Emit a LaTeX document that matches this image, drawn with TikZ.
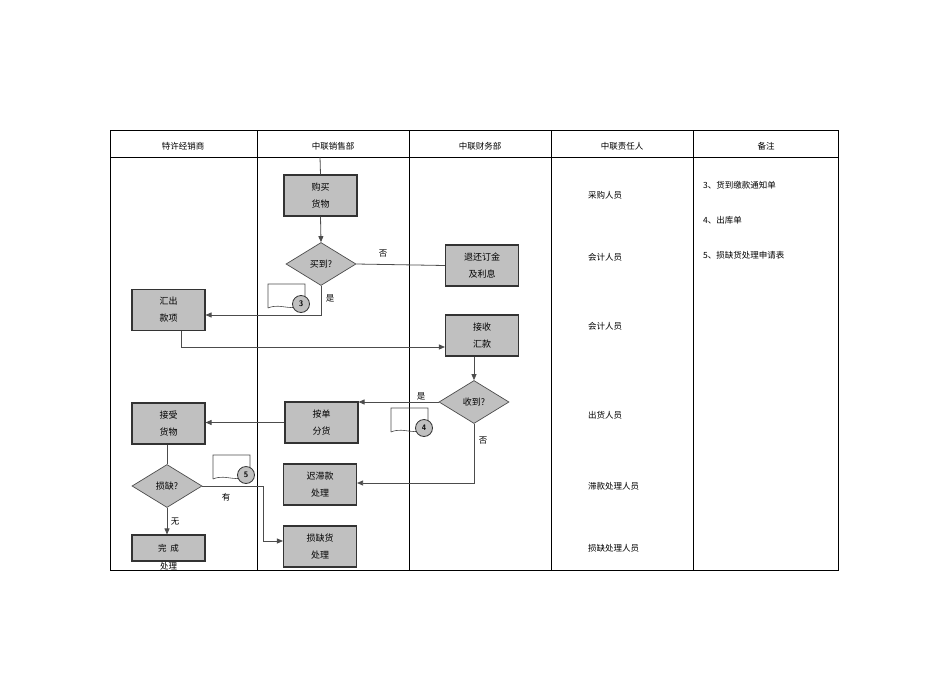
\documentclass[tikz,border=0pt]{standalone}
\usepackage{fontspec}
\setmainfont{Noto Sans CJK SC}
\usetikzlibrary{shapes.geometric,arrows.meta}
\definecolor{boxg}{HTML}{C0C0C0}
\begin{document}
\begin{tikzpicture}[x=1pt,y=-1pt,
  box/.style={draw=black!80,line width=1.1pt,fill=boxg,minimum width=73pt,minimum height=41pt,inner sep=0pt,align=center,font=\fontsize{9}{17}\selectfont},
  dia/.style={diamond,draw=black!70,line width=0.7pt,fill=boxg,minimum width=70pt,minimum height=43pt,inner sep=0pt,aspect=1.6,font=\fontsize{9}{11}\selectfont},
  ln/.style={draw=black!70,line width=0.8pt},
  arr/.style={ln,-{Triangle[length=6pt,width=5pt]}},
  lbl/.style={font=\fontsize{8.5}{10}\selectfont,inner sep=0pt},
  txt/.style={font=\fontsize{8.5}{10}\selectfont,inner sep=0pt,anchor=west},
  num/.style={circle,draw=black!80,line width=0.8pt,fill=boxg,minimum size=17pt,inner sep=0pt,font=\sffamily\bfseries\fontsize{8}{9}\selectfont}]
\useasboundingbox (0,0) rectangle (950,672);
% table
\draw[line width=0.6pt] (110,130) rectangle (838,570);
\draw[line width=0.6pt] (110,157) -- (838,157);
\foreach \x in {257,409,551,693} \draw[line width=0.6pt] (\x,130) -- (\x,570);
\foreach \x/\t in {183/特许经销商,333/中联销售部,480/中联财务部,622/中联责任人,766/备注}
  \node[lbl] (h\x) at (\x,146) {\t};
% nodes
\node[box] (buy) at (320.5,195.5) {购买\\货物};
\node[dia] (d1) at (321,264) {买到?};
\node[box] (ret) at (482,265.5) {退还订金\\及利息};
\node[box] (out) at (168.5,310) {汇出\\款项};
\node[box] (rec) at (482,335.5) {接收\\汇款};
\node[dia] (d2) at (474,402) {收到?};
\node[box] (dist) at (321.5,422.5) {按单\\分货};
\node[box] (acc) at (168.5,423.5) {接受\\货物};
\node[dia] (d3) at (167,486) {损缺?};
\node[box] (late) at (320,484.5) {迟滞款\\处理};
\node[box] (dmg) at (320,546.5) {损缺货\\处理};
\node[box,minimum height=26pt] (done) at (168.5,548) {};
\node[lbl] (done1) at (168.5,548) {完\ \ 成};
\node[lbl] (done2) at (168.5,566) {处理};
% documents
\foreach \x/\y/\n in {268/284/3,391/408/4,213/455/5}{
  \draw[ln,line width=0.6pt] (\x,\y+24) -- (\x,\y) -- (\x+37,\y) -- (\x+37,\y+18)
     .. controls (\x+25,\y+30) and (\x+14,\y+18) .. (\x,\y+24);
  \node[num] (n\n) at (\x+33,\y+20) {\n};
}
% connectors
\coordinate (top1) at (320,157);
\draw[ln] (top1) -- (buy.north);
\draw[arr] (buy.south) -- (d1.north);
\draw[ln] (d1.east) -- (ret.west);
\node[lbl] (no1) at (383,254) {否};
\coordinate (c1) at (321,315);
\draw[arr] (d1.south) -- (c1) -- (out.east|-c1);
\node[lbl] (yes1) at (330,298) {是};
\coordinate (c2) at (181,347);
\draw[arr] (out.south-|c2) -- (c2) -- (rec.west|-c2);
\draw[arr] (rec.south-|d2.north) -- (d2.north);
\draw[arr] (d2.west) -- (dist.east|-d2.west);
\node[lbl] (yes2) at (421,396) {是};
\coordinate (c3) at (474,483);
\draw[arr] (d2.south) -- (c3) -- (late.east|-c3);
\node[lbl] (no2) at (483,441) {否};
\draw[arr] (dist.west) -- (acc.east|-dist.west);
\draw[ln] (acc.south-|d3.north) -- (d3.north);
\coordinate (c4) at (263,486);
\coordinate (c5) at (263,541);
\draw[arr] (d3.east) -- (c4) -- (c5) -- (dmg.west|-c5);
\node[lbl] (has) at (226,497) {有};
\draw[arr] (d3.south) -- (done.north-|d3.south);
\node[lbl] (none) at (175,522) {无};
% right column
\foreach \y/\t in {195/采购人员,257/会计人员,326/会计人员,415/出货人员,486/滞款处理人员,548/损缺处理人员}
  \node[txt] (r\y) at (588,\y) {\t};
\foreach \y/\t in {185/3、货到缴款通知单,220/4、出库单,255/5、损缺货处理申请表}
  \node[txt] (m\y) at (703,\y) {\t};
\end{tikzpicture}
\end{document}
